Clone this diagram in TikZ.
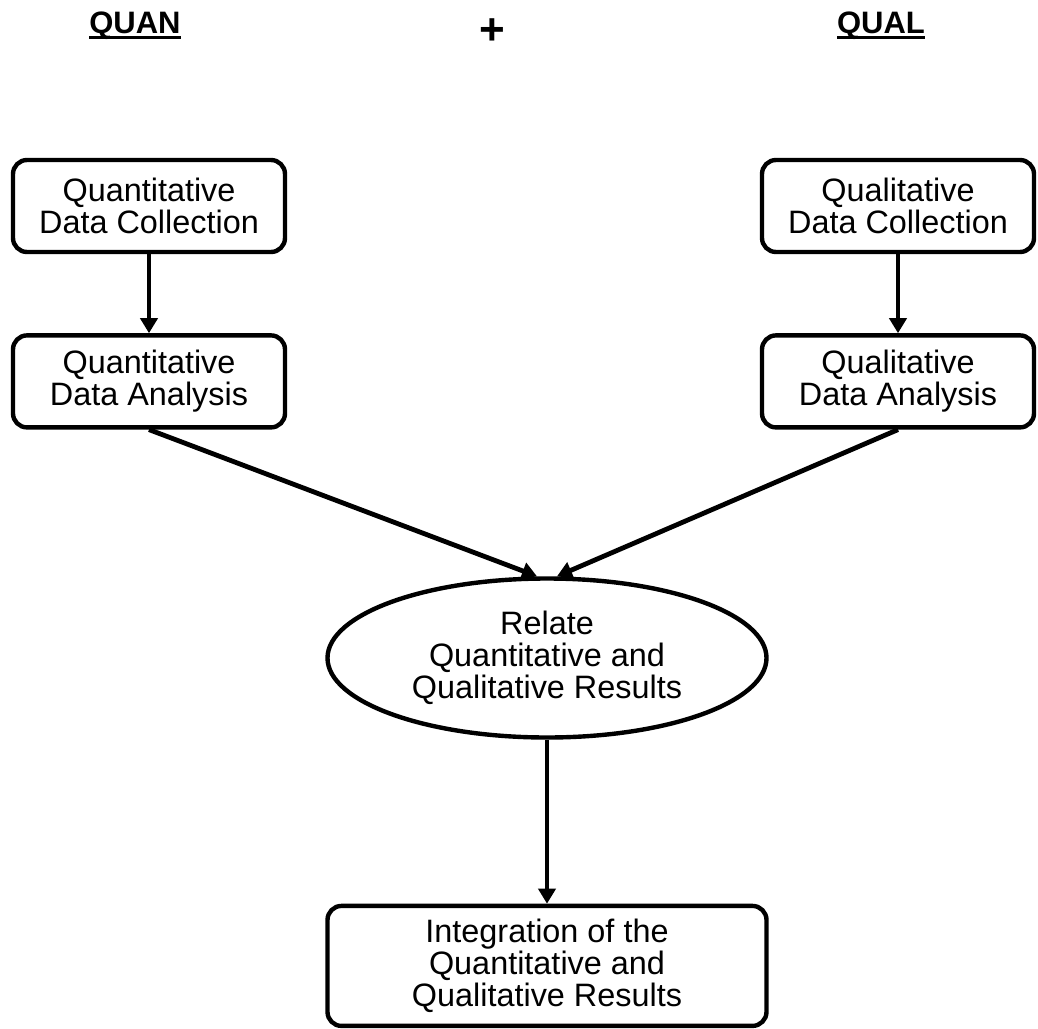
\documentclass[tikz,border=0pt]{standalone}
\usepackage{fontspec}
\setmainfont{Liberation Sans}
\usepackage{tikz}
\usetikzlibrary{positioning,shapes.geometric,arrows.meta}

% bold heading with a thick underline
\newcommand{\headtext}[1]{\setbox0=\hbox{#1}\rlap{\rule[-3pt]{\wd0}{1.5pt}}\box0}

\begin{document}
\begin{tikzpicture}[
  x=0.5pt, y=-0.5pt,
  box/.style={draw, rounded corners=7pt, line width=2.2pt,
              minimum width=136pt, minimum height=46pt, inner sep=0pt,
              font=\fontsize{16.2}{16}\selectfont, align=center},
  oval/.style={draw, ellipse, line width=2.2pt,
               minimum width=219.5pt, minimum height=79.5pt, inner sep=0pt,
               font=\fontsize{16.2}{16}\selectfont, align=center},
  head/.style={anchor=base, font=\fontsize{15.5}{16}\selectfont\bfseries},
  arrow/.style={-{Triangle[width=8.5pt,length=7.5pt]}, line width=2.4pt},
  node distance=39.5pt
]
\useasboundingbox (0,0) rectangle (1038,1028);

% --- headings ---
\node[head] (quan) at (135,33) {\headtext{QUAN}};
\node[head, anchor=center, font=\fontsize{22}{22}\selectfont\bfseries] (plus) at (492,32) {+};
\node[head] (qual) at (881,33) {\headtext{QUAL}};

% --- QUAN strand ---
\node[box] (qnC) at (149,206) {Quantitative\\Data Collection};
\node[box, below=of qnC] (qnA) {Quantitative\\Data Analysis};
\draw[arrow] (qnC) -- (qnA);

% --- QUAL strand ---
\node[box] (qlC) at (898,206) {Qualitative\\Data Collection};
\node[box, below=of qlC] (qlA) {Qualitative\\Data Analysis};
\draw[arrow] (qlC) -- (qlA);

% --- merge ---
\node[oval] (rel) at (547,658) {Relate\\Quantitative and\\Qualitative Results};
\draw[arrow] (qnA.south) -- ([xshift=-5pt]rel.north);
\draw[arrow] (qlA.south) -- ([xshift=5pt]rel.north);

\node[box, minimum width=219.5pt, minimum height=60pt, below=82pt of rel] (integ)
  {Integration of the\\Quantitative and\\Qualitative Results};
\draw[arrow] (rel) -- (integ);

\end{tikzpicture}
\end{document}
